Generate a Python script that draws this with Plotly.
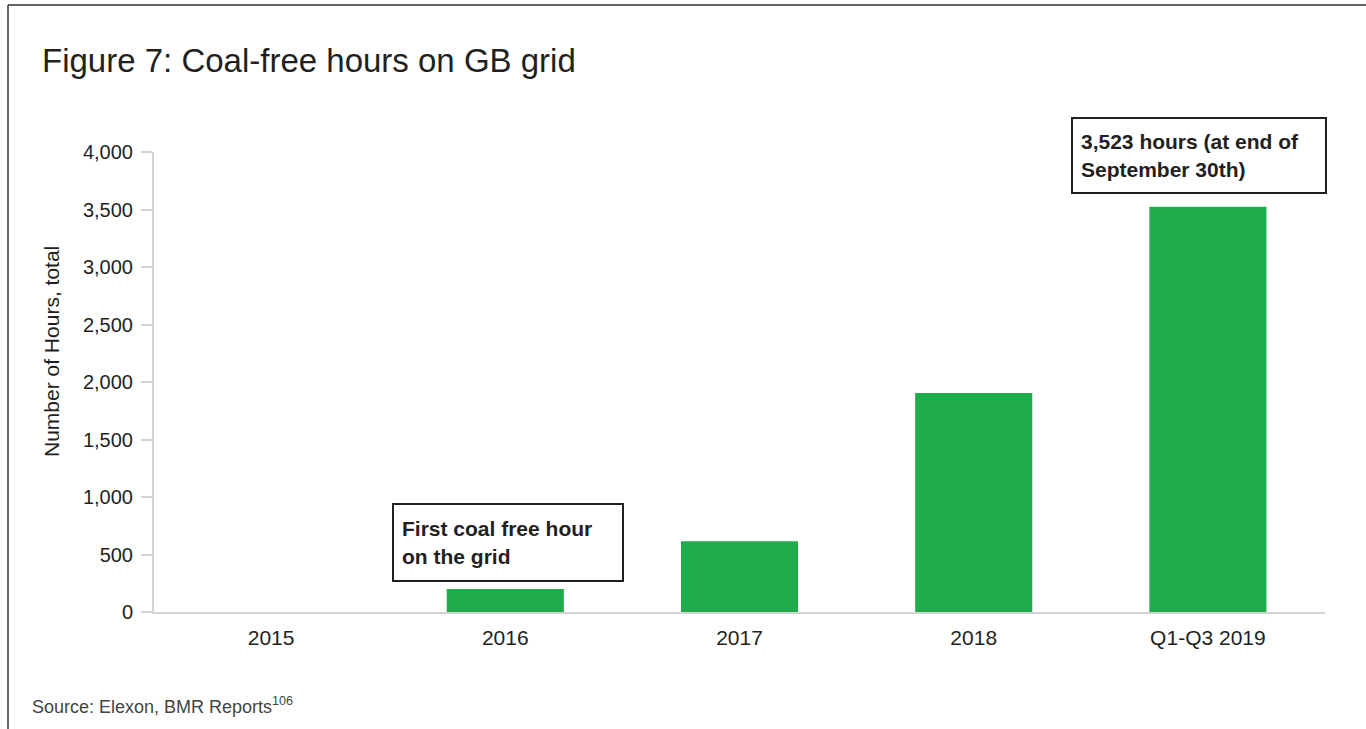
import plotly.graph_objects as go

categories = ["2015", "2016", "2017", "2018", "Q1-Q3 2019"]
hours = [0, 200, 615, 1905, 3523]
y_ticks = [0, 500, 1000, 1500, 2000, 2500, 3000, 3500, 4000]
y_tick_labels = ["0", "500", "1,000", "1,500", "2,000", "2,500", "3,000", "3,500", "4,000"]

FW, FH = 1366, 729
ML, MR, MT, MB = 154, 41, 152, 117
PW, PH = FW - ML - MR, FH - MT - MB

def px(x):
    return (x - ML) / PW

def py(y):
    return (FH - MB - y) / PH

FONT = "Liberation Sans, Arial, Helvetica, sans-serif"
TXT = "#231f20"

fig = go.Figure()
fig.add_trace(go.Bar(x=categories, y=hours, marker=dict(color="#21ac4b", line=dict(width=0)), width=0.5))

fig.update_layout(
    width=FW, height=FH,
    margin=dict(l=ML, r=MR, t=MT, b=MB),
    paper_bgcolor="white", plot_bgcolor="white",
    showlegend=False,
    font=dict(family=FONT, color=TXT, size=20),
    title=dict(text="Figure 7: Coal-free hours on GB grid", x=42 / FW, xanchor="left",
               y=1 - 60 / FH, yanchor="middle", xref="container", yref="container",
               font=dict(family=FONT, size=33, color=TXT)),
    bargap=0.5,
)
fig.update_yaxes(range=[0, 4000], tickvals=y_ticks, ticktext=y_tick_labels, showgrid=False,
                 showline=True, linecolor="#d3d3d3", linewidth=2, ticks="outside", ticklen=11,
                 tickcolor="#d3d3d3", tickwidth=2, zeroline=False, ticklabelstandoff=4,
                 tickfont=dict(size=20, color=TXT))
fig.update_xaxes(showgrid=False, showline=True, linecolor="#d3d3d3", linewidth=2, ticks="",
                 tickfont=dict(size=21, color=TXT), ticklabelstandoff=6)

# y-axis title
fig.add_annotation(xref="paper", yref="paper", x=px(51), y=py(352), xanchor="center", yanchor="middle",
                   text="Number of Hours, total", textangle=-90, showarrow=False,
                   font=dict(size=21, color=TXT))

# box annotations
fig.add_annotation(xref="paper", yref="paper", x=px(392), y=py(503), xanchor="left", yanchor="top",
                   text="<b>First coal free hour<br>on the grid</b>", showarrow=False, align="left",
                   width=212, height=59, borderpad=8, bordercolor="#231f20", borderwidth=2,
                   bgcolor="white", font=dict(size=21, color=TXT), valign="middle")
fig.add_annotation(xref="paper", yref="paper", x=px(1071), y=py(117), xanchor="left", yanchor="top",
                   text="<b>3,523 hours (at end of<br>September 30th)</b>", showarrow=False, align="left",
                   width=236, height=57, borderpad=8, bordercolor="#231f20", borderwidth=2,
                   bgcolor="white", font=dict(size=21, color=TXT), valign="middle")

# source
fig.add_annotation(xref="paper", yref="paper", x=px(30), y=py(705), xanchor="left", yanchor="middle",
                   text="Source: Elexon, BMR Reports<sup>106</sup>", showarrow=False,
                   font=dict(size=18, color="#444444"))

# frame lines
fig.add_shape(type="line", xref="paper", yref="paper", x0=px(8), x1=px(1366), y0=py(5), y1=py(5),
              line=dict(color="#333333", width=1.5))
fig.add_shape(type="line", xref="paper", yref="paper", x0=px(8), x1=px(8), y0=py(5), y1=py(729),
              line=dict(color="#333333", width=1.5))

fig.write_html("out.html", config={"displayModeBar": False},
               post_script="document.body.style.margin='0px';document.body.style.overflow='hidden';")
